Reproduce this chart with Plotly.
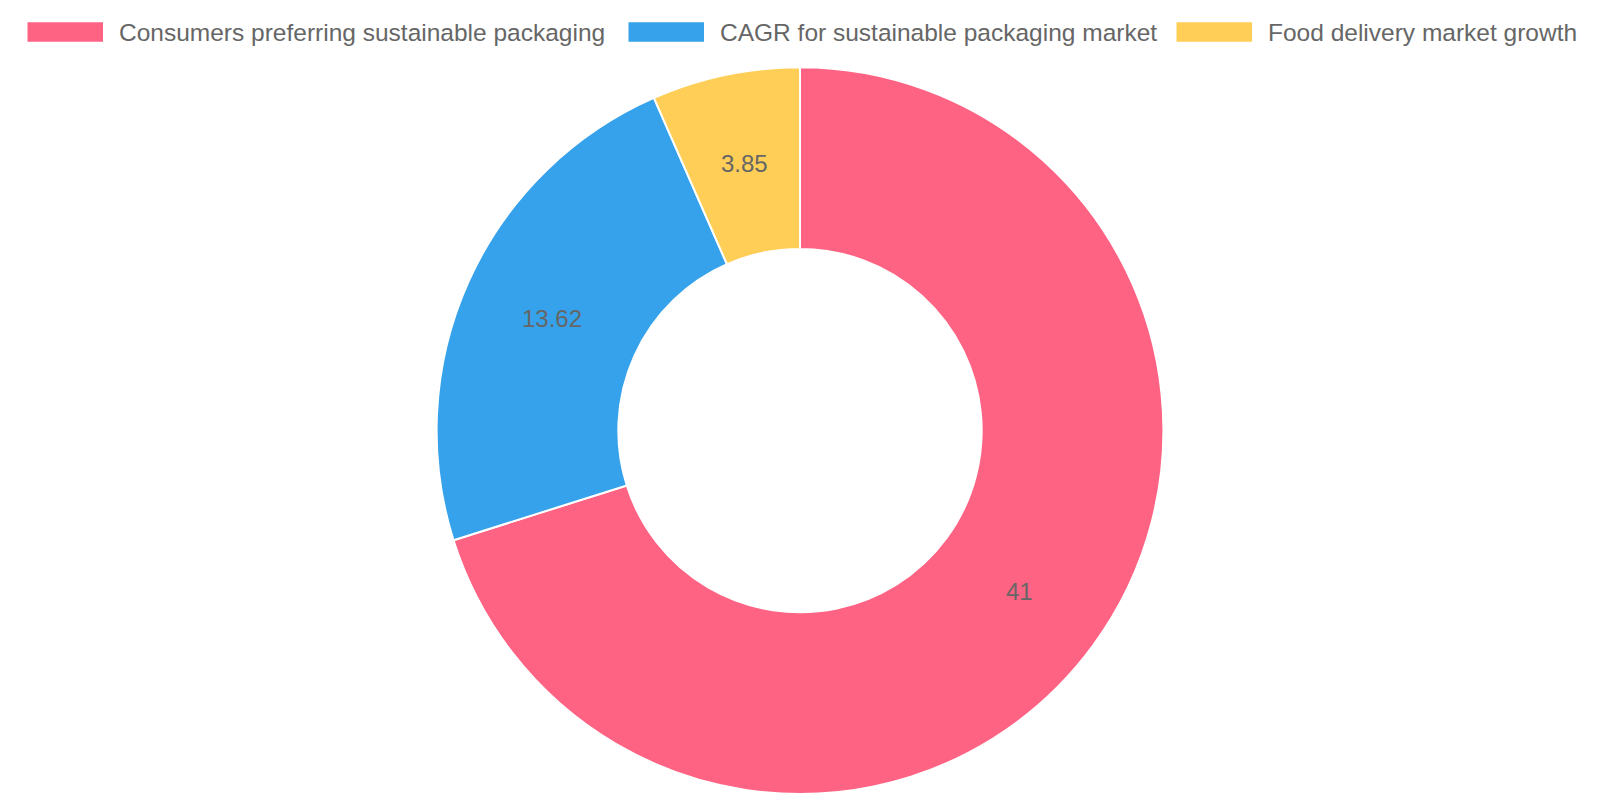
import math
import plotly.graph_objects as go

labels = ["Consumers preferring sustainable packaging",
          "CAGR for sustainable packaging market",
          "Food delivery market growth"]
values = [41, 13.62, 3.85]
colors = ["#FF6384", "#36A2EB", "#FFCE56"]

FONT = "Liberation Sans, Arial, Helvetica, sans-serif"
TXT = "#666666"
W, H = 1600, 800
dom_x = [0.2728, 0.7272]
dom_y = [0.0075, 0.916]
HOLE = 0.5

fig = go.Figure(go.Pie(
    labels=labels,
    values=values,
    hole=HOLE,
    sort=False,
    direction="clockwise",
    rotation=0,
    marker=dict(colors=colors, line=dict(color="#ffffff", width=2)),
    textinfo="none",
    domain=dict(x=dom_x, y=dom_y),
    showlegend=False,
    hoverinfo="label+value",
))

# value labels at middle of each ring segment (Chart.js datalabels style)
cx = (dom_x[0] + dom_x[1]) / 2 * W
cy = (dom_y[0] + dom_y[1]) / 2 * H
R = (dom_y[1] - dom_y[0]) * H / 2
rm = R * (1 + HOLE) / 2
total = sum(values)
annotations = []
cum = 0.0
for v in values:
    mid = (cum + v / 2) / total * 2 * math.pi
    cum += v
    px = cx + rm * math.sin(mid)
    py = cy + rm * math.cos(mid)
    annotations.append(dict(text=f"{v:g}", xref="paper", yref="paper",
                            x=px / W, y=py / H, xanchor="center", yanchor="middle",
                            showarrow=False,
                            font=dict(family=FONT, size=24, color=TXT)))

# custom legend (Chart.js style wide boxes)
legend_box_x = [27.5, 628.5, 1176.5]
box_w, box_h = 75.5, 19.5
legend_y_center = 32
shapes = []
for i, lab in enumerate(labels):
    x0 = legend_box_x[i]
    shapes.append(dict(type="rect", xref="paper", yref="paper",
                       x0=x0 / W, x1=(x0 + box_w) / W,
                       y0=1 - (legend_y_center + box_h / 2) / H,
                       y1=1 - (legend_y_center - box_h / 2) / H,
                       fillcolor=colors[i], line=dict(width=0)))
    annotations.append(dict(text=lab, xref="paper", yref="paper",
                            x=(x0 + box_w + 14) / W, y=1 - legend_y_center / H,
                            xanchor="left", yanchor="middle", showarrow=False,
                            font=dict(family=FONT, size=24.5, color=TXT)))

fig.update_layout(
    width=W, height=H,
    margin=dict(l=0, r=0, t=0, b=0),
    paper_bgcolor="#ffffff", plot_bgcolor="#ffffff",
    shapes=shapes, annotations=annotations,
)

fig.write_html("out.html")
